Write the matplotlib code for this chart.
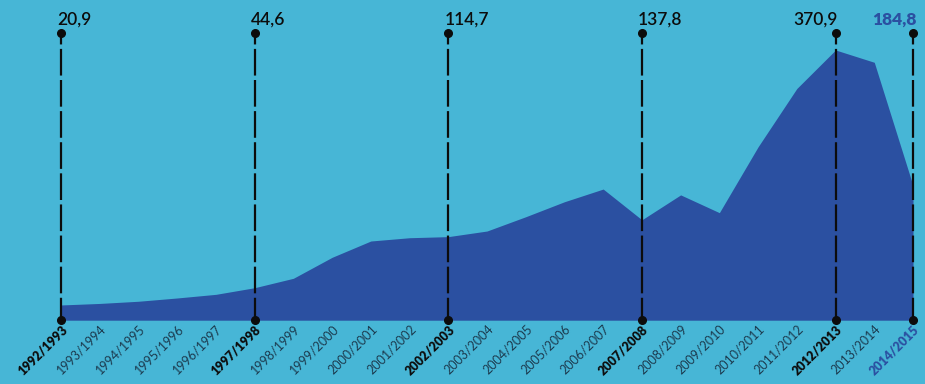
import matplotlib
matplotlib.use("Agg")
import matplotlib.pyplot as plt

BG = "#47b6d6"
AREA = "#2b50a1"
INK = "#0c0c0c"
SOFT = "#1c3b4f"

seasons = [
    "1992/1993", "1993/1994", "1994/1995", "1995/1996", "1996/1997",
    "1997/1998", "1998/1999", "1999/2000", "2000/2001", "2001/2002",
    "2002/2003", "2003/2004", "2004/2005", "2005/2006", "2006/2007",
    "2007/2008", "2008/2009", "2009/2010", "2010/2011", "2011/2012",
    "2012/2013", "2013/2014", "2014/2015",
]
values = [
    20.9, 23.0, 26.0, 30.5, 35.5,
    44.6, 57.5, 86.3, 108.7, 113.2,
    114.7, 122.4, 142.0, 162.6, 180.0,
    137.8, 172.0, 147.6, 238.0, 318.0,
    370.9, 354.0, 184.8,
]
# seasons that get a marker line and a value label
highlight = [0, 5, 10, 15, 20, 22]
value_labels = ["20,9", "44,6", "114,7", "137,8", "370,9", "184,8"]

W, H = 925, 384
fig = plt.figure(figsize=(W / 100, H / 100), dpi=100)
fig.patch.set_facecolor(BG)

x0, x1 = 61, 913
y_base = 320.2
ymax = 439.5
ax = fig.add_axes([x0 / W, (H - y_base) / H, (x1 - x0) / W, y_base / H])
ax.set_facecolor(BG)
ax.set_xlim(0, len(seasons) - 1)
ax.set_ylim(0, ymax)
for s in ax.spines.values():
    s.set_visible(False)

xs = list(range(len(seasons)))
ax.fill_between(xs, 0, values, color=AREA, linewidth=0, zorder=1)

top_val = 394
for i, lab in zip(highlight, value_labels):
    ax.plot([i, i], [0, top_val], color=INK, lw=1.6,
            linestyle=(2, (12, 2)), zorder=3, clip_on=False)
    ax.plot([i, i], [0, top_val], "o", color=INK, ms=5.5, zorder=4,
            clip_on=False)
    if i == len(seasons) - 1:
        ax.text(i + 0.1, top_val + 7, lab, ha="right", va="bottom",
                fontsize=12.5, fontweight="heavy", color=AREA,
                family="Lato")
    elif i == 20:
        ax.text(i + 0.05, top_val + 7, lab, ha="right", va="bottom",
                fontsize=12.5, color=INK, family="Lato",
                fontweight="semibold")
    else:
        ax.text(i - 0.1, top_val + 7, lab, ha="left", va="bottom",
                fontsize=12.5, color=INK, family="Lato",
                fontweight="semibold")

ax.set_xticks(xs)
ax.set_xticklabels(seasons, rotation=45, ha="right",
                   rotation_mode="anchor", fontsize=9, family="Lato")
ax.set_yticks([])
ax.tick_params(axis="x", length=0, pad=2)
for i, t in enumerate(ax.get_xticklabels()):
    if i == len(seasons) - 1:
        t.set_color(AREA)
        t.set_fontweight("heavy")
    elif i in highlight:
        t.set_color(INK)
        t.set_fontweight("heavy")
    else:
        t.set_color(SOFT)
        t.set_fontweight("normal")

fig.savefig("out.png", dpi=100, facecolor=BG)
